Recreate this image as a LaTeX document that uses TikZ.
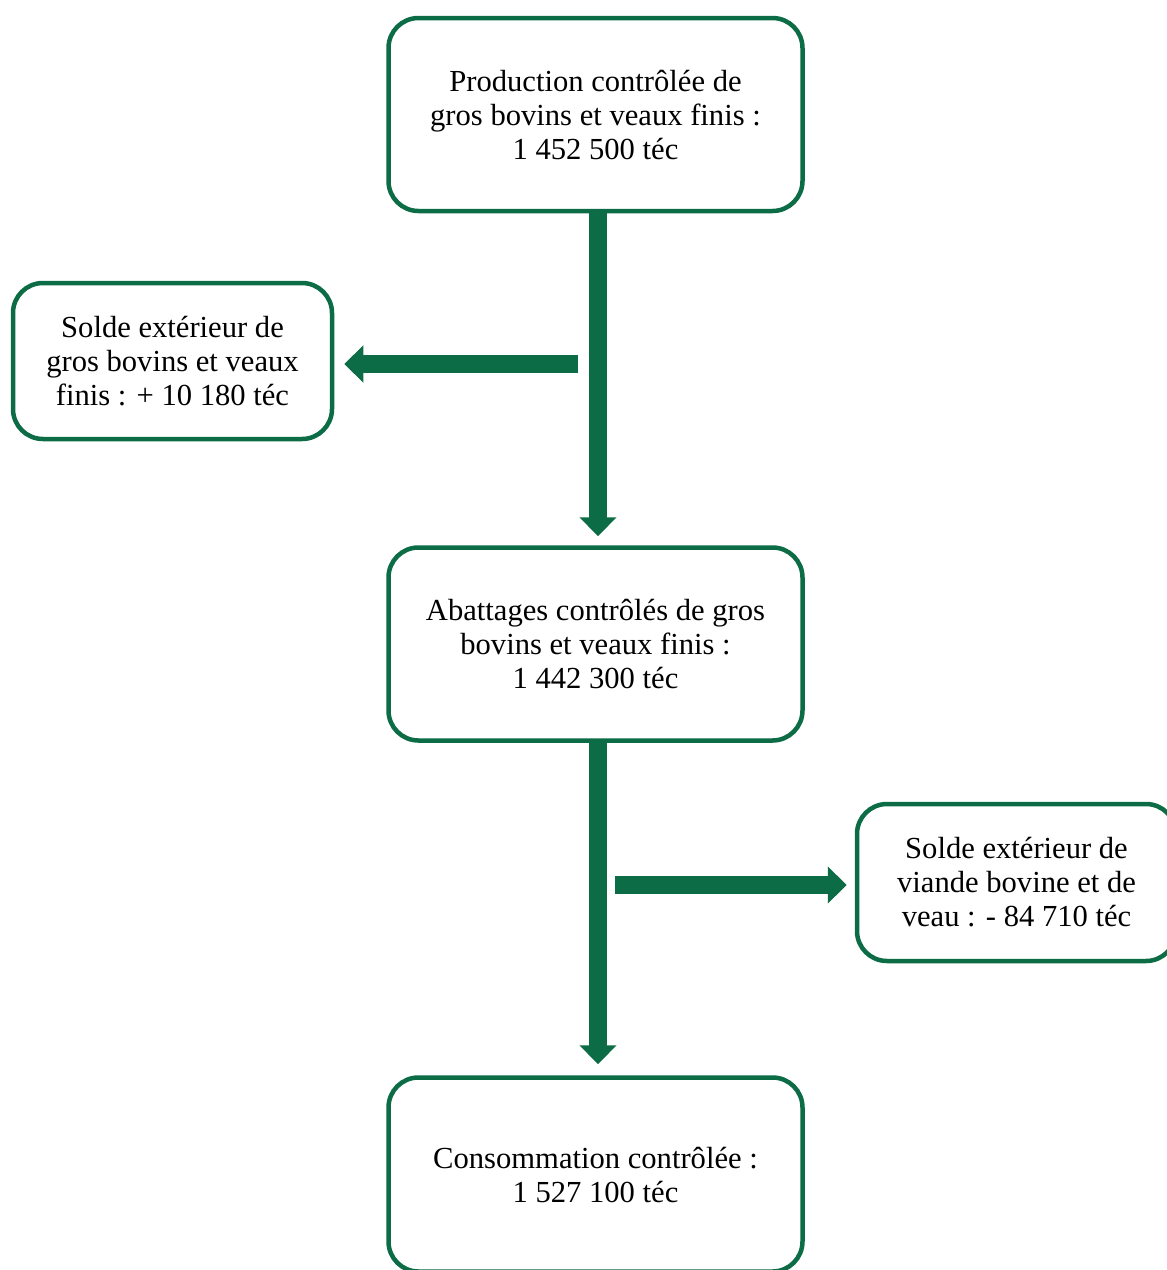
\documentclass[tikz,border=0pt]{standalone}
\usepackage{fontspec}
\setmainfont{Liberation Serif}
\usetikzlibrary{arrows.meta}
\definecolor{vert}{RGB}{12,108,70}
\begin{document}
\begin{tikzpicture}[x=0.5pt,y=-0.5pt,
  boxst/.style={draw=vert, line width=2.25pt, rounded corners=15pt, fill=white,
    inner sep=0pt, align=center, font=\fontsize{15.3pt}{17pt}\selectfont},
  bigarrow/.style={draw=vert, line width=9pt,
    -{Triangle[width=18pt,length=9.5pt]}}]
\useasboundingbox (0,0) rectangle (1167,1270);
\clip (0,0) rectangle (1167,1270);
\node[boxst, minimum width=207pt, minimum height=96.5pt] (top) at (595.5,114.5)
  {Production contrôlée de\\gros bovins et veaux finis :\\1 452 500 téc};
\node[boxst, minimum width=159.5pt, minimum height=78pt] (left) at (172.5,361)
  {Solde extérieur de\\gros bovins et veaux\\finis : + 10 180 téc};
\node[boxst, minimum width=207pt, minimum height=96.5pt] (mid) at (595.5,644)
  {Abattages contrôlés de gros\\bovins et veaux finis :\\1 442 300 téc};
\node[boxst, minimum width=159.5pt, minimum height=78.5pt] (right) at (1016.5,882.5)
  {Solde extérieur de\\viande bovine et de\\veau : - 84 710 téc};
\node[boxst, minimum width=207pt, minimum height=97pt] (bot) at (595.5,1174.5)
  {Consommation contrôlée :\\1 527 100 téc};
\coordinate (s1) at (578,364);
\coordinate (s2) at (615,885);
\draw[bigarrow, shorten >=4.5pt] ([xshift=1.25pt]top.south) -- ([xshift=1.25pt]mid.north);
\draw[bigarrow, shorten >=5.5pt] ([xshift=1.25pt]mid.south) -- ([xshift=1.25pt]bot.north);
\draw[bigarrow, shorten >=5pt] (s1) -- (s1 -| left.east);
\draw[bigarrow, shorten >=4pt] (s2) -- (s2 -| right.west);
\end{tikzpicture}
\end{document}
